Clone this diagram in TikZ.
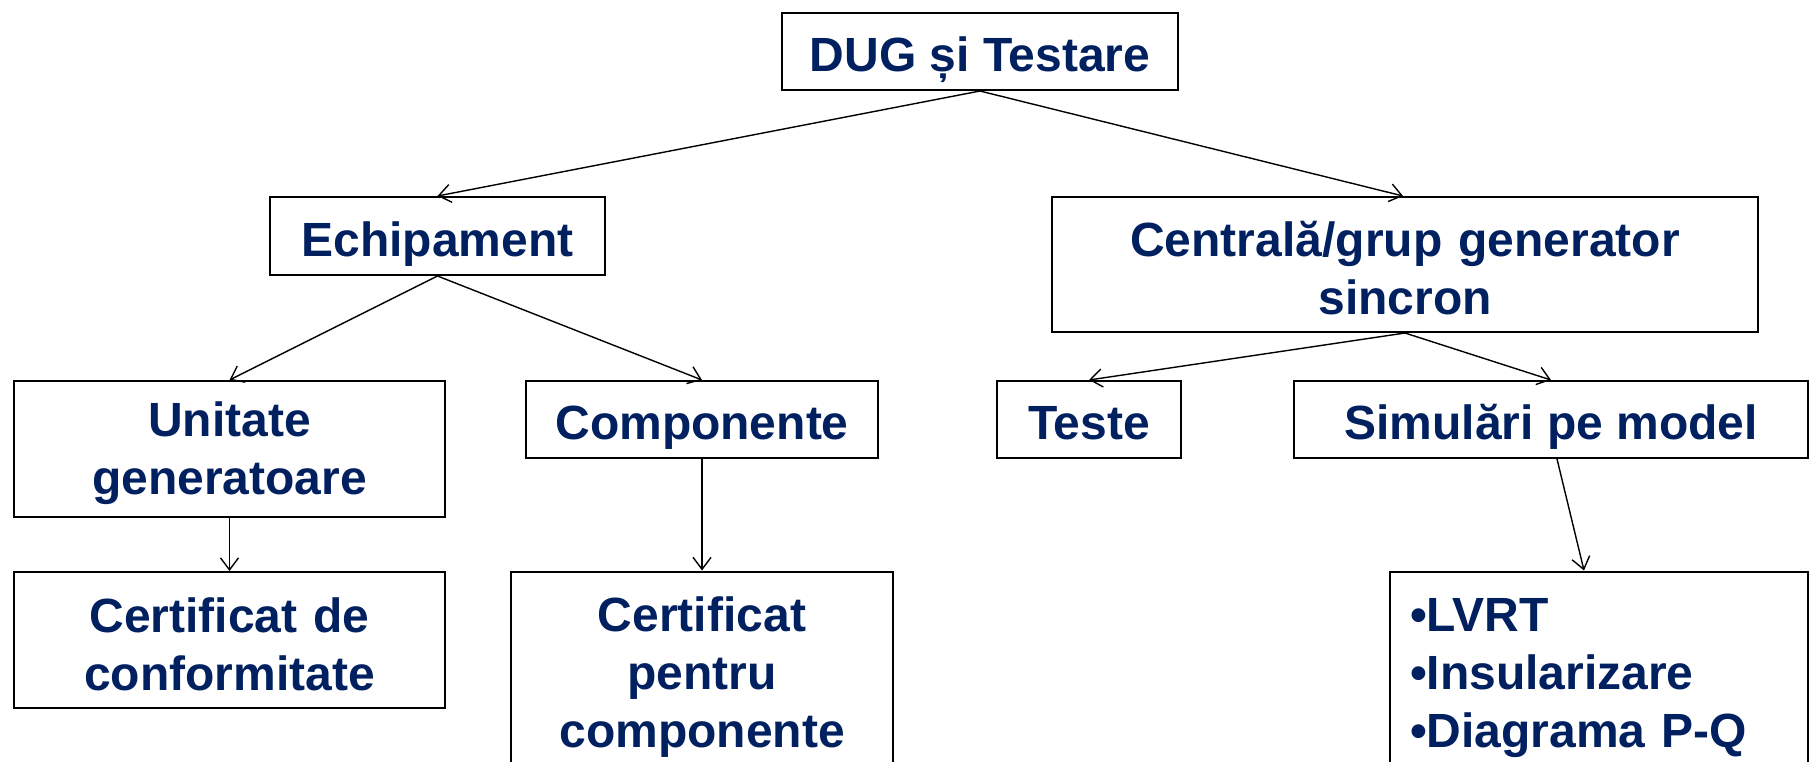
\documentclass[tikz,border=0pt]{standalone}
\usepackage{fontspec}
\setmainfont{Liberation Sans}
\usetikzlibrary{arrows.meta, positioning}
\definecolor{dugblue}{RGB}{0,32,96}

\begin{document}
\begin{tikzpicture}[
    x=0.5pt, y=-0.5pt,
    box/.style={draw, rectangle, line width=1pt, inner sep=0pt, align=center, text=dugblue, font=\fontsize{24}{29}\selectfont\bfseries},
    single/.style={box, text height=25pt, text depth=5pt},
    multi/.style={box, text height=21.5pt},
    listbox/.style={multi, align=left, inner xsep=10pt, text width=189pt},
    link/.style={-{Straight Barb[length=6pt, width=9pt]}, line width=0.7pt}
]

% Page frame
\clip (0,0) rectangle (1809,761);
\fill[white] (0,0) rectangle (1809,761);

% Root
\node[single, minimum width=198pt, minimum height=38.5pt] (dug) at (980,51.5) {DUG și Testare};

% Second level
\node[single, minimum width=167.5pt, minimum height=39pt] (echip) at (437.5,236) {Echipament};
\node[multi, text width=353pt, minimum height=67.5pt] (centrala) at (1405,264.5) {Centrală/grup generator\\sincron};

% Third level
\node[multi, text width=215.5pt, minimum height=68pt] (unitate) at (229.5,449) {Unitate\\generatoare};
\node[single, minimum width=176pt, minimum height=38.5pt] (compon) at (702,419.5) {Componente};
\node[single, minimum width=92pt, minimum height=38.5pt] (teste) at (1089,419.5) {Teste};
\node[single, minimum width=257pt, minimum height=38.5pt] (simul) at (1551,419.5) {Simulări pe model};

% Fourth level
\node[multi, text width=215.5pt, minimum height=68pt] (certconf) at (229.5,640) {Certificat de\\conformitate};
\node[multi, text width=191pt, minimum height=101.5pt] (certcomp) at (702,673) {Certificat\\pentru\\componente};
\node[listbox, minimum height=101.5pt] (lista) at (1599,673) {•LVRT\\•Insularizare\\•Diagrama P-Q};

% Connections
\draw[link] (dug.south) -- (echip.north);
\draw[link] (dug.south) -- ([xshift=-1pt]centrala.north);
\draw[link] (echip.south) -- (unitate.north);
\draw[link] (echip.south) -- (compon.north);
\draw[link] (centrala.south) -- (teste.north);
\draw[link] (centrala.south) -- (simul.north);
\draw[link] (unitate.south) -- (certconf.north);
\draw[link] (compon.south) -- (certcomp.north);
\draw[link] ([xshift=3pt]simul.south) -- ([xshift=-7.5pt]lista.north);

\end{tikzpicture}
\end{document}
